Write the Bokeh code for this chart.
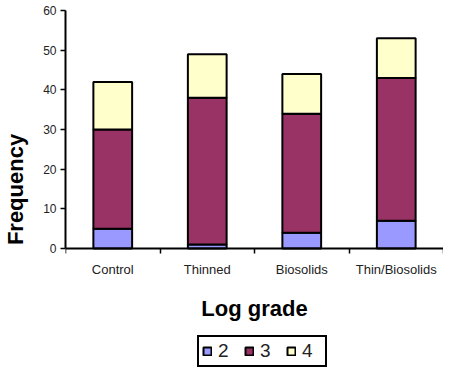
import numpy as np
from bokeh.plotting import figure
from bokeh.models import ColumnDataSource, FixedTicker, Legend, LegendItem, Range1d
from bokeh.embed import file_html
from bokeh.resources import INLINE

categories = ["Control", "Thinned", "Biosolids", "Thin/Biosolids"]
grades = ["2", "3", "4"]
grade2 = [5, 1, 4, 7]
grade3 = [25, 37, 30, 36]
grade4 = [12, 11, 10, 10]
colors = ["#9999FF", "#993366", "#FFFFCC"]
y_ticks = [0, 10, 20, 30, 40, 50, 60]

FONT = "Liberation Sans"

W, H = 443, 368
TOP, LEFT = 10, 62
AXIS_PX = 238            # pixel height of the 0..60 value axis
YMAX = 60
frame_h = H - TOP
y_start = YMAX - YMAX * frame_h / AXIS_PX   # extra room below 0 for labels & legend

x = [float(v) for v in np.arange(len(categories)) + 0.5]
source = ColumnDataSource(dict(x=x, g2=grade2, g3=grade3, g4=grade4))

p = figure(width=W, height=H, output_backend="svg", toolbar_location=None,
           x_range=Range1d(0, len(categories)), y_range=Range1d(y_start, YMAX),
           min_border_left=LEFT, min_border_right=0, min_border_top=TOP,
           min_border_bottom=0)

renderers = p.vbar_stack(["g2", "g3", "g4"], x="x", width=0.41, source=source,
                         fill_color=colors, line_color="black", line_width=2)

p.xgrid.visible = False
p.ygrid.visible = False
p.outline_line_color = None

# y axis
yax = p.yaxis[0]
yax.bounds = (0, YMAX)
yax.ticker = FixedTicker(ticks=y_ticks)
yax.major_tick_out = 5
yax.major_tick_in = 0
yax.minor_tick_out = 0
yax.minor_tick_in = 0
yax.axis_line_width = 2
yax.major_tick_line_width = 1.5
yax.major_label_text_font = FONT
yax.major_label_text_font_size = "12px"
yax.major_label_text_color = "#222222"
yax.major_label_standoff = 4
yax.axis_label = "Frequency"
yax.axis_label_text_font = FONT
yax.axis_label_text_font_style = "bold"
yax.axis_label_text_font_size = "22px"
yax.axis_label_text_color = "black"
yax.axis_label_standoff = 12

# x axis at y = 0: labels at centres, ticks at boundaries
xax = p.xaxis[0]
xax.fixed_location = 0
xax.ticker = FixedTicker(ticks=x, minor_ticks=list(range(len(categories) + 1)))
xax.major_label_overrides = {xi: c for xi, c in zip(x, categories)}
xax.major_tick_out = 0
xax.major_tick_in = 0
xax.minor_tick_out = 5
xax.minor_tick_in = 0
xax.minor_tick_line_width = 1.5
xax.minor_tick_line_color = "black"
xax.axis_line_width = 2
xax.major_label_text_font = FONT
xax.major_label_text_font_size = "13px"
xax.major_label_text_color = "#222222"
xax.major_label_standoff = 8
xax.axis_label = "Log grade"
xax.axis_label_text_font = FONT
xax.axis_label_text_font_style = "bold"
xax.axis_label_text_font_size = "22px"
xax.axis_label_text_color = "black"
xax.axis_label_standoff = 16

items = [LegendItem(label=g, renderers=[r]) for g, r in zip(grades, renderers)]
legend = Legend(items=items, orientation="horizontal", location=(132, 1),
                label_text_font=FONT, label_text_font_size="19px",
                label_text_color="#222222",
                glyph_width=10, glyph_height=10, label_standoff=6,
                spacing=6, padding=3, margin=0,
                border_line_color="black", border_line_width=2,
                border_line_alpha=1.0,
                label_height=14)
p.add_layout(legend, "center")

open("out.html", "w").write(file_html(p, INLINE))
